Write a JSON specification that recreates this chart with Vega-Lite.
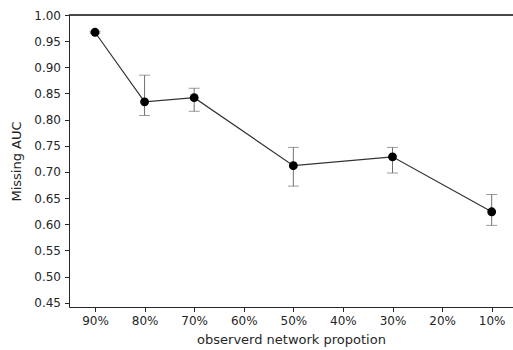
{
  "$schema": "https://vega.github.io/schema/vega-lite/v6.json",
  "width": 444,
  "height": 292,
  "autosize": {"type": "none"},
  "padding": {"left": 69, "top": 15, "right": 0, "bottom": 43},
  "background": "white",
  "config": {
    "view": {"stroke": null},
    "font": "DejaVu Sans",
    "axis": {
      "labelFont": "DejaVu Sans",
      "titleFont": "DejaVu Sans",
      "labelFontSize": 12,
      "titleFontSize": 13,
      "titleFontWeight": "normal",
      "labelColor": "#262626",
      "titleColor": "#262626",
      "domainColor": "#262626",
      "tickColor": "#262626",
      "grid": false,
      "tickSize": 4.5,
      "labelPadding": 4,
      "labelOverlap": false,
      "labelFlush": false,
      "labelBound": false
    }
  },
  "data": {
    "values": [
      {"p": 90, "auc": 0.967, "lo": 0.965, "hi": 0.969},
      {"p": 80, "auc": 0.834, "lo": 0.808, "hi": 0.885},
      {"p": 70, "auc": 0.842, "lo": 0.816, "hi": 0.860},
      {"p": 50, "auc": 0.712, "lo": 0.673, "hi": 0.747},
      {"p": 30, "auc": 0.729, "lo": 0.698, "hi": 0.747},
      {"p": 10, "auc": 0.624, "lo": 0.598, "hi": 0.657}
    ]
  },
  "encoding": {
    "x": {
      "field": "p",
      "type": "quantitative",
      "scale": {"domain": [5.7, 95.24], "reverse": true, "nice": false, "zero": false},
      "axis": {
        "values": [90, 80, 70, 60, 50, 40, 30, 20, 10],
        "labelExpr": "datum.value + '%'",
        "title": "observerd network propotion",
        "titlePadding": 7,
        "labelOverlap": false
      }
    },
    "y": {
      "field": "auc",
      "type": "quantitative",
      "scale": {"domain": [0.442, 1.0], "nice": false, "zero": false},
      "axis": {
        "values": [0.45, 0.5, 0.55, 0.6, 0.65, 0.7, 0.75, 0.8, 0.85, 0.9, 0.95, 1.0],
        "format": ".2f",
        "title": "Missing AUC",
        "titlePadding": 10,
        "labelOverlap": false,
        "labelFlush": false,
        "labelBound": false
      }
    }
  },
  "layer": [
    {
      "mark": {"type": "rule", "color": "#444", "strokeWidth": 0.9},
      "encoding": {"x": null, "y": {"datum": 1.0, "type": "quantitative"}}
    },
    {
      "mark": {"type": "rule", "color": "#707070", "strokeWidth": 1},
      "encoding": {
        "y": {"field": "lo", "type": "quantitative"},
        "y2": {"field": "hi"}
      }
    },
    {
      "mark": {"type": "tick", "orient": "horizontal", "color": "#707070", "size": 11, "thickness": 1},
      "encoding": {"y": {"field": "lo", "type": "quantitative"}}
    },
    {
      "mark": {"type": "tick", "orient": "horizontal", "color": "#707070", "size": 11, "thickness": 1},
      "encoding": {"y": {"field": "hi", "type": "quantitative"}}
    },
    {
      "mark": {"type": "line", "color": "#333", "strokeWidth": 1.2},
      "encoding": {}
    },
    {
      "mark": {"type": "point", "filled": true, "color": "black", "opacity": 1, "size": 78},
      "encoding": {}
    }
  ]
}
